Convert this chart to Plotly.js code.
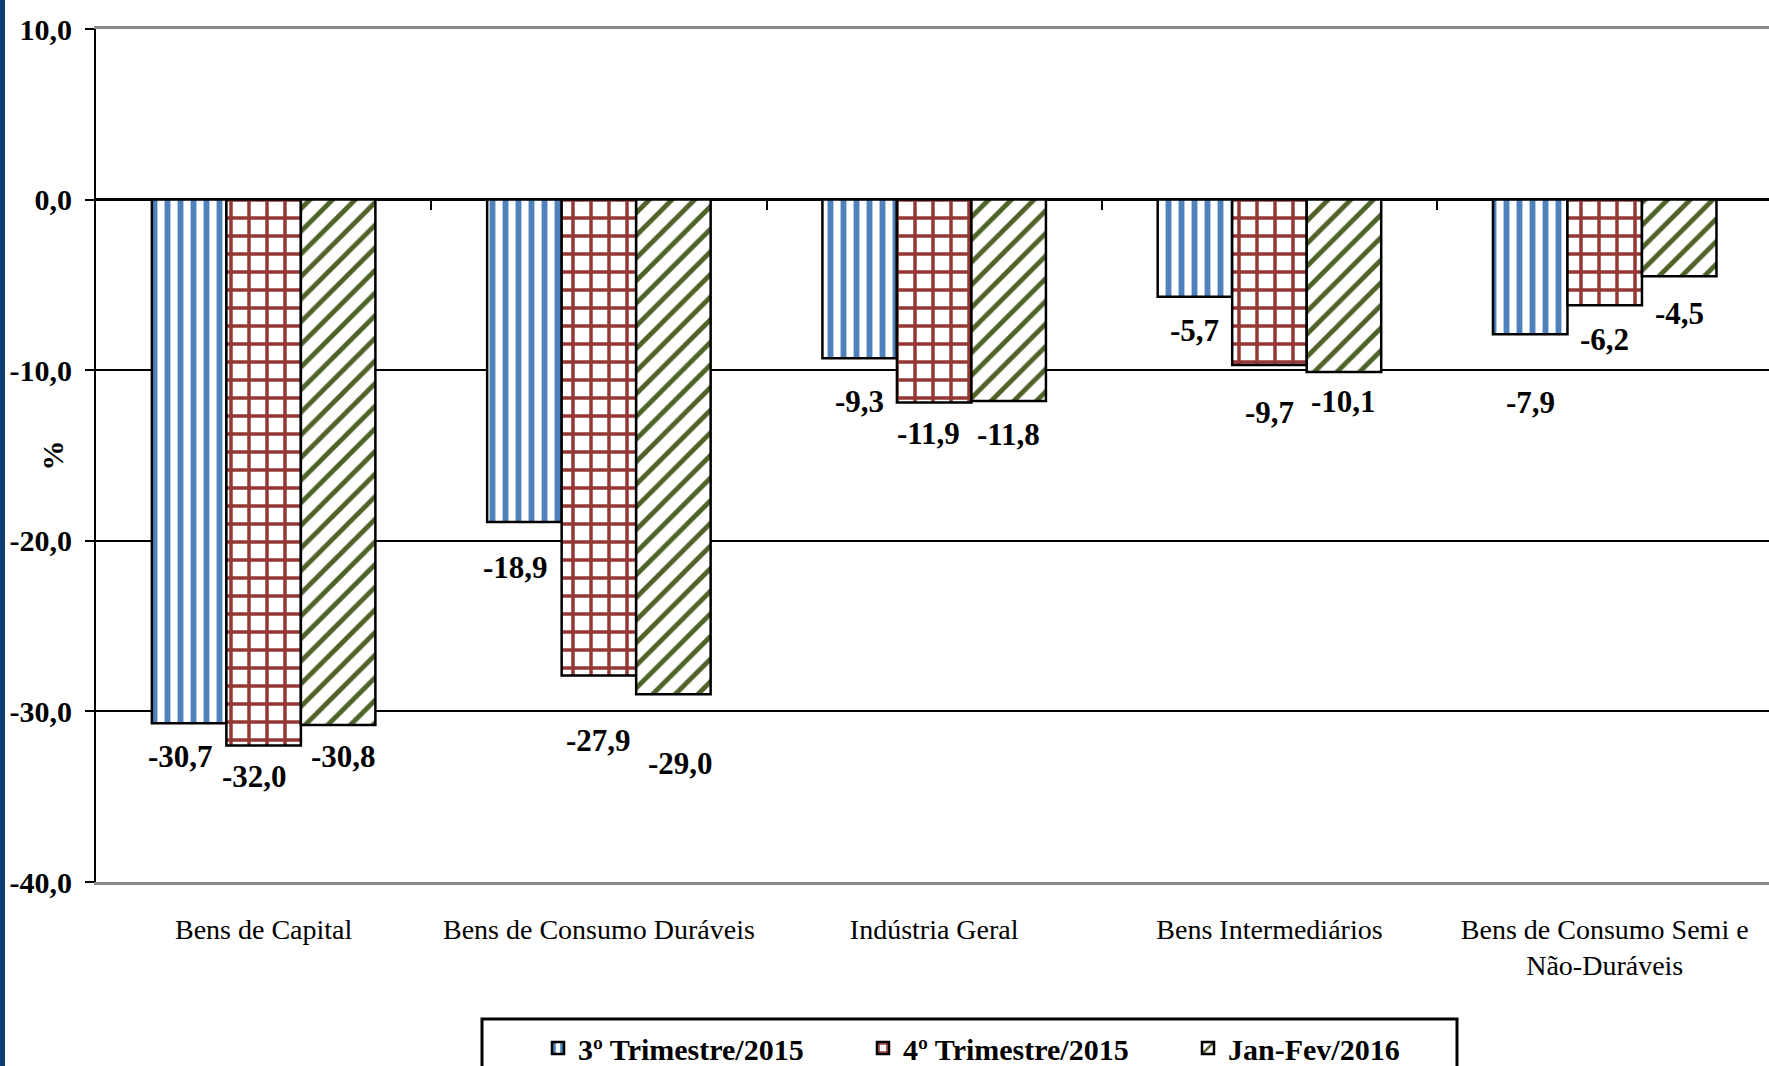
<!DOCTYPE html>
<html><head><meta charset="utf-8">
<script src="https://cdn.plot.ly/plotly-3.0.1.min.js"></script>
<style>html,body{margin:0;padding:0;background:#fff}</style>
</head><body><div id="chart" style="width:1769px;height:1066px"></div>
<script>
// ---- data ----
const categories = ['Bens de Capital', 'Bens de Consumo Duráveis', 'Indústria Geral', 'Bens Intermediários', 'Bens de Consumo Semi e<br>Não-Duráveis'];
const seriesNames = ['3º Trimestre/2015', '4º Trimestre/2015', 'Jan-Fev/2016'];
const q3_2015 = [-30.7, -18.9, -9.3, -5.7, -7.9];
const q4_2015 = [-32.0, -27.9, -11.9, -9.7, -6.2];
const janfev_2016 = [-30.8, -29.0, -11.8, -10.1, -4.5];
const yTickVals = [10, 0, -10, -20, -30, -40];

// ---- styling / layout constants ----
const W = 1769, H = 1066;
const M = {l: 96, r: 0, t: 29, b: 184};
const plotW = W - M.l - M.r, plotH = H - M.t - M.b;
const xRange = [-0.5, 4.49], yRange = [-40, 10];
const bargap = 1 / 3;
const barW = (1 - bargap) / 3;
const FONT = 'Liberation Serif';
const patterns = [
  {shape: '|', fgcolor: '#4F81BD', bgcolor: '#ffffff', size: 13, solidity: 0.45},
  {shape: '+', fgcolor: '#953735', bgcolor: '#ffffff', size: 18, solidity: 0.35},
  {shape: '/', fgcolor: '#4F6228', bgcolor: '#ffffff', size: 16, solidity: 0.3}
];
// label nudges (px) below bar end, and horizontal nudges
const labelDrop = [[33, 45, 43, 34, 68], [31, 65, 31, 47, 34], [31, 69, 34, 30, 37]];
const labelDx = [[-9, -9, 0, 0, 0], [-9, 0, -6, 0, 0], [5, 7, 0, 0, 0]];

const seriesValues = [q3_2015, q4_2015, janfev_2016];
const fmt = v => v.toFixed(1).replace('.', ',');

const traces = seriesValues.map((vals, j) => ({
  type: 'bar', name: seriesNames[j], x: categories, y: vals,
  marker: {color: '#ffffff', pattern: patterns[j], line: {color: '#000000', width: 2.5}},
  hoverinfo: 'skip'
}));
// invisible helper trace so the zero-crossing tick axis is drawn
traces.push({type: 'scatter', x: [], y: [], xaxis: 'x2', yaxis: 'y', showlegend: false, hoverinfo: 'skip'});

const annotations = [];
seriesValues.forEach((vals, j) => {
  vals.forEach((v, i) => {
    annotations.push({
      x: i + (j - 1) * barW, y: v, xref: 'x', yref: 'y',
      text: fmt(v), showarrow: false, xanchor: 'center', yanchor: 'middle',
      yshift: -labelDrop[j][i], xshift: labelDx[j][i],
      font: {family: FONT, size: 31, weight: 'bold', color: '#000'}
    });
  });
});
annotations.push({
  xref: 'paper', yref: 'paper', x: (52 - M.l) / plotW, y: 0.5,
  text: '%', textangle: -90, showarrow: false, xanchor: 'center', yanchor: 'middle',
  font: {family: FONT, size: 30, weight: 'bold', color: '#000'}
});

const zeroPos = (0 - yRange[0]) / (yRange[1] - yRange[0]);

const layout = {
  width: W, height: H, margin: M,
  paper_bgcolor: '#ffffff', plot_bgcolor: '#ffffff',
  separators: ',.',
  barmode: 'group', bargap: bargap, bargroupgap: 0,
  font: {family: FONT, color: '#000'},
  xaxis: {
    type: 'category', range: xRange, fixedrange: true, automargin: false,
    showline: true, linecolor: '#888888', linewidth: 3, mirror: true,
    ticks: '', showgrid: false, zeroline: false,
    tickfont: {family: FONT, size: 28, color: '#000'},
    ticklabelstandoff: 20
  },
  xaxis2: {
    overlaying: 'x', anchor: 'free', position: zeroPos, range: xRange, automargin: false,
    tickvals: [0.5, 1.5, 2.5, 3.5], ticks: 'outside', ticklen: 9, tickwidth: 2, tickcolor: '#000',
    showticklabels: false, showgrid: false, zeroline: false, showline: false, fixedrange: true
  },
  yaxis: {
    range: yRange, tickvals: yTickVals, ticktext: yTickVals.map(fmt), fixedrange: true, automargin: false,
    showline: true, linecolor: '#000', linewidth: 2, mirror: false,
    ticks: 'outside', ticklen: 9, tickwidth: 2, tickcolor: '#000',
    showgrid: true, gridcolor: '#000', gridwidth: 2,
    zeroline: true, zerolinecolor: '#000', zerolinewidth: 3,
    tickfont: {family: FONT, size: 30, weight: 'bold', color: '#000'},
    ticklabelstandoff: 7
  },
  legend: {
    orientation: 'h', xref: 'container', yref: 'container',
    x: 538 / W, y: 1 - 1022 / H, xanchor: 'left', yanchor: 'top',
    borderwidth: 0, bgcolor: 'rgba(0,0,0,0)',
    font: {family: FONT, size: 30, weight: 'bold', color: '#000'},
    entrywidth: 280, traceorder: 'normal'
  },
  shapes: [
    {type: 'rect', xref: 'paper', yref: 'paper',
     x0: (482 - M.l) / plotW, x1: (1457 - M.l) / plotW,
     y0: (M.t + plotH - 1019) / plotH, y1: (M.t + plotH - 1080) / plotH,
     line: {color: '#000', width: 3}, fillcolor: 'rgba(0,0,0,0)', layer: 'below'},
    {type: 'rect', xref: 'paper', yref: 'paper',
     x0: (0 - M.l) / plotW, x1: (5 - M.l) / plotW, y0: -0.5, y1: 1.5,
     line: {width: 0}, fillcolor: '#0F3C74', layer: 'above'}
  ],
  annotations: annotations,
  showlegend: true
};

Plotly.newPlot('chart', traces, layout, {displayModeBar: false, staticPlot: true});
</script>
</body></html>
